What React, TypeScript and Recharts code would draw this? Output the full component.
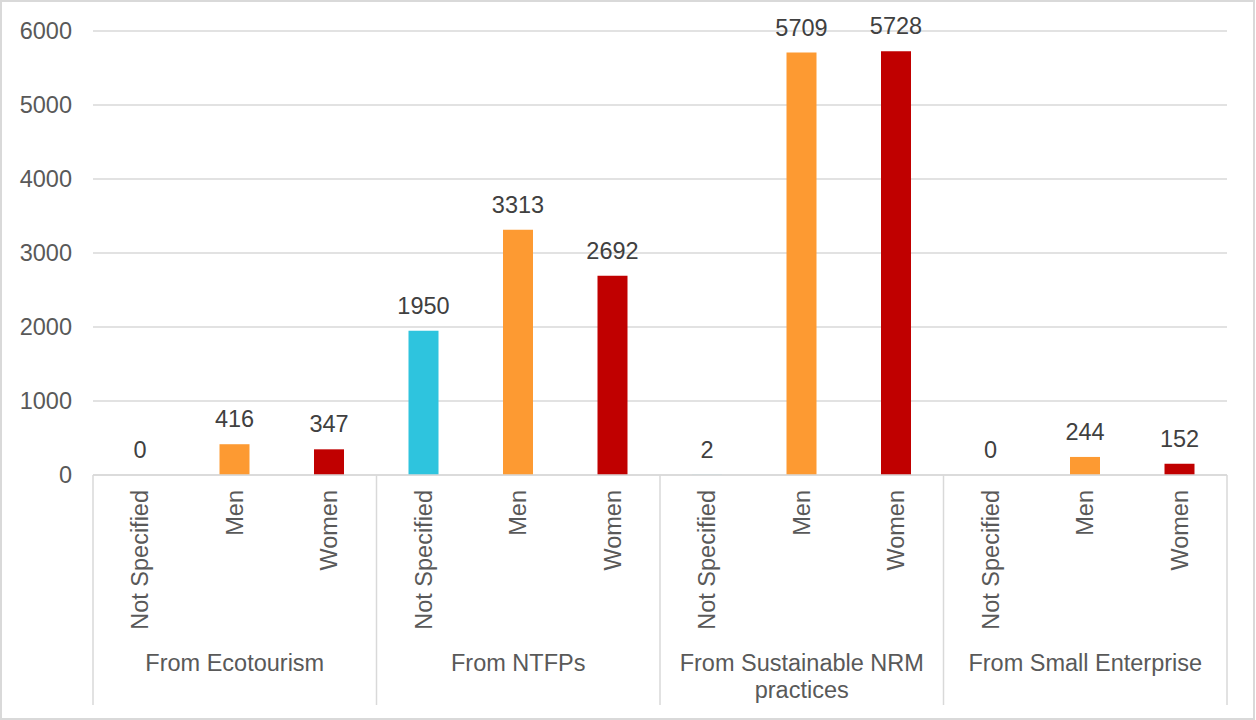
import { BarChart, Bar, XAxis, YAxis, CartesianGrid, Cell, LabelList } from 'recharts';

// income sources, each split by gender
const groups = ['From Ecotourism', 'From NTFPs', 'From Sustainable NRM practices', 'From Small Enterprise'];
const genders = ['Not Specified', 'Men', 'Women'];

const ecotourism = [0, 416, 347];
const ntfps = [1950, 3313, 2692];
const sustainableNrm = [2, 5709, 5728];
const smallEnterprise = [0, 244, 152];

const genderColors = ['#2EC4DE', '#FD9A32', '#C00000'];
const yTicks = [0, 1000, 2000, 3000, 4000, 5000, 6000];

const groupValues = [ecotourism, ntfps, sustainableNrm, smallEnterprise];

const data = groups.flatMap((group, gi) =>
  genders.map((gender, si) => ({
    key: `${gi}-${si}`,
    group,
    gender,
    value: groupValues[gi][si],
    color: genderColors[si],
  }))
);

const W = 1256;
const H = 720;
const Y_AXIS_W = 93;
const MARGIN = { top: 31, right: 29, bottom: 0, left: 0 };
const BAND = (W - Y_AXIS_W - MARGIN.left - MARGIN.right) / data.length;

const FONT = '"Liberation Sans", Arial, sans-serif';
const FONT_SIZE = 23.5;
const AXIS_GREY = '#d9d9d9';
const TEXT_GREY = '#595959';

// greedy word wrap for the group captions
function wrapWords(text: string, maxChars: number) {
  const lines: string[] = [];
  let line = '';
  for (const word of text.split(' ')) {
    const next = line ? `${line} ${word}` : word;
    if (next.length > maxChars && line) {
      lines.push(line);
      line = word;
    } else {
      line = next;
    }
  }
  if (line) lines.push(line);
  return lines;
}

// two-level category tick: rotated gender label, group label and separators
function CategoryTick(props: any) {
  const { x, y, index } = props;
  const row = data[index];
  const pos = index % genders.length;
  const sepBottom = y + 230;
  return (
    <g>
      <text
        x={x}
        y={y + 15}
        transform={`rotate(-90, ${x}, ${y + 15})`}
        textAnchor="end"
        dominantBaseline="central"
        fill={TEXT_GREY}
        fontSize={FONT_SIZE}
        fontFamily={FONT}
      >
        {row.gender}
      </text>
      {pos === 0 && (
        <line x1={x - BAND / 2} x2={x - BAND / 2} y1={y} y2={sepBottom} stroke={AXIS_GREY} strokeWidth={1.5} />
      )}
      {index === data.length - 1 && (
        <line x1={x + BAND / 2} x2={x + BAND / 2} y1={y} y2={sepBottom} stroke={AXIS_GREY} strokeWidth={1.5} />
      )}
      {pos === 1 && (
        <text textAnchor="middle" fill={TEXT_GREY} fontSize={FONT_SIZE} fontFamily={FONT}>
          {wrapWords(row.group, 21).map((ln, i) => (
            <tspan key={i} x={x} y={y + 196 + i * 27}>
              {ln}
            </tspan>
          ))}
        </text>
      )}
    </g>
  );
}

export default function App() {
  return (
    <div style={{ position: 'absolute', left: 0, top: 0, width: W, height: H, background: '#fff' }}>
      <div
        style={{
          position: 'absolute',
          left: 0,
          top: 0,
          width: W - 1,
          height: H,
          boxSizing: 'border-box',
          border: `2px solid ${AXIS_GREY}`,
        }}
      />
      <div style={{ position: 'absolute', left: 0, top: 0 }}>
        <BarChart width={W} height={H} data={data} margin={MARGIN}>
          <CartesianGrid vertical={false} stroke={AXIS_GREY} strokeWidth={1.5} />
          <YAxis
            width={Y_AXIS_W}
            domain={[0, 6000]}
            ticks={yTicks}
            axisLine={false}
            tickLine={false}
            tickSize={0}
            tickMargin={21}
            tick={{ fill: TEXT_GREY, fontSize: FONT_SIZE, fontFamily: FONT }}
          />
          <XAxis
            dataKey="key"
            height={245}
            interval={0}
            axisLine={{ stroke: AXIS_GREY, strokeWidth: 1.5 }}
            tickLine={false}
            tickSize={0}
            tickMargin={0}
            tick={<CategoryTick />}
          />
          <Bar
            dataKey="value"
            barSize={30}
            minPointSize={(v: any) => (v === 0 ? 0.01 : 0)}
            isAnimationActive={false}
          >
            {data.map((d) => (
              <Cell key={d.key} fill={d.color} />
            ))}
            <LabelList
              dataKey="value"
              position="top"
              offset={17}
              fill="#404040"
              fontSize={FONT_SIZE}
              fontFamily={FONT}
            />
          </Bar>
        </BarChart>
      </div>
    </div>
  );
}
